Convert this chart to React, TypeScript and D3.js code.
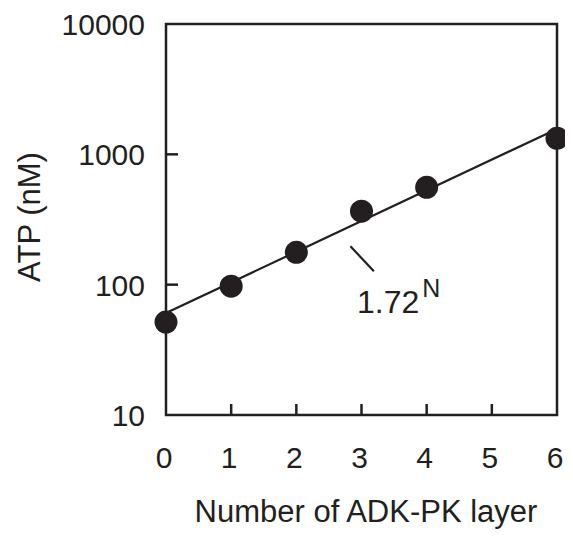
import React, { useEffect, useRef } from 'react';
import * as d3 from 'd3';

const layers = [0, 1, 2, 3, 4, 6];
const atp = [51.6, 97.3, 177, 366, 558, 1327];
const xTicks = [0, 1, 2, 3, 4, 5, 6];
const yTicks = [10, 100, 1000, 10000];
const fitStart = 60.5;
const fitBase = 1.72;

const App = () => {
  const svgRef = useRef<SVGSVGElement>(null);

  useEffect(() => {
    const svg = d3.select(svgRef.current);
    svg.selectAll('*').remove();

    const width = 573;
    const height = 540;
    const margin = { top: 24, right: 16, bottom: 125, left: 166 };
    const ink = '#231f20';
    const font = 'Liberation Sans, Arial, Helvetica, sans-serif';

    const x = d3.scaleLinear()
      .domain([0, 6])
      .range([margin.left, width - margin.right]);

    const y = d3.scaleLog()
      .domain([10, 10000])
      .range([height - margin.bottom, margin.top]);

    // frame
    svg.append('rect')
      .attr('x', x(0))
      .attr('y', y(10000))
      .attr('width', x(6) - x(0))
      .attr('height', y(10) - y(10000))
      .attr('fill', 'none')
      .attr('stroke', ink)
      .attr('stroke-width', 2.5);

    // inward ticks
    svg.append('g')
      .selectAll('line')
      .data(xTicks.slice(1, -1))
      .enter()
      .append('line')
      .attr('x1', d => x(d))
      .attr('x2', d => x(d))
      .attr('y1', y(10))
      .attr('y2', y(10) - 11)
      .attr('stroke', ink)
      .attr('stroke-width', 2.5);

    svg.append('g')
      .selectAll('line')
      .data(yTicks.slice(1, -1))
      .enter()
      .append('line')
      .attr('x1', x(0))
      .attr('x2', x(0) + 12)
      .attr('y1', d => y(d))
      .attr('y2', d => y(d))
      .attr('stroke', ink)
      .attr('stroke-width', 2.5);

    // tick labels
    svg.append('g')
      .selectAll('text')
      .data(xTicks)
      .enter()
      .append('text')
      .attr('x', d => x(d) - 2)
      .attr('y', 468)
      .attr('text-anchor', 'middle')
      .attr('font-family', font)
      .attr('font-size', 30)
      .attr('fill', ink)
      .text(d => d);

    svg.append('g')
      .selectAll('text')
      .data(yTicks)
      .enter()
      .append('text')
      .attr('x', 145)
      .attr('y', d => y(d) + 11)
      .attr('text-anchor', 'end')
      .attr('font-family', font)
      .attr('font-size', 30)
      .attr('fill', ink)
      .text(d => d);

    // axis titles
    svg.append('text')
      .attr('x', 366)
      .attr('y', 522)
      .attr('text-anchor', 'middle')
      .attr('font-family', font)
      .attr('font-size', 31)
      .attr('fill', ink)
      .text('Number of ADK-PK layer');

    svg.append('text')
      .attr('transform', 'translate(40,217) rotate(-90)')
      .attr('text-anchor', 'middle')
      .attr('font-family', font)
      .attr('font-size', 31)
      .attr('fill', ink)
      .text('ATP (nM)');

    // exponential fit
    const fit = d3.line<number>()
      .x(d => x(d))
      .y(d => y(fitStart * Math.pow(fitBase, d)));

    svg.append('path')
      .datum([0, 6])
      .attr('d', fit)
      .attr('fill', 'none')
      .attr('stroke', ink)
      .attr('stroke-width', 2.2);

    // points
    svg.append('g')
      .selectAll('circle')
      .data(atp)
      .enter()
      .append('circle')
      .attr('cx', (d, i) => x(layers[i]))
      .attr('cy', d => y(d))
      .attr('r', 11.5)
      .attr('fill', ink);

    // annotation
    svg.append('line')
      .attr('x1', x(2.83))
      .attr('y1', y(197))
      .attr('x2', x(3.19))
      .attr('y2', y(127))
      .attr('stroke', ink)
      .attr('stroke-width', 2.2);

    const label = svg.append('text')
      .attr('x', x(2.93))
      .attr('y', y(60.5))
      .attr('font-family', font)
      .attr('font-size', 32)
      .attr('fill', ink);
    label.append('tspan').text('1.72');
    label.append('tspan')
      .attr('dx', 3)
      .attr('dy', -16)
      .attr('font-size', 25)
      .text('N');
  }, []);

  return <svg ref={svgRef} width={573} height={540} style={{ display: 'block', margin: -8 }}></svg>;
};

export default App;
